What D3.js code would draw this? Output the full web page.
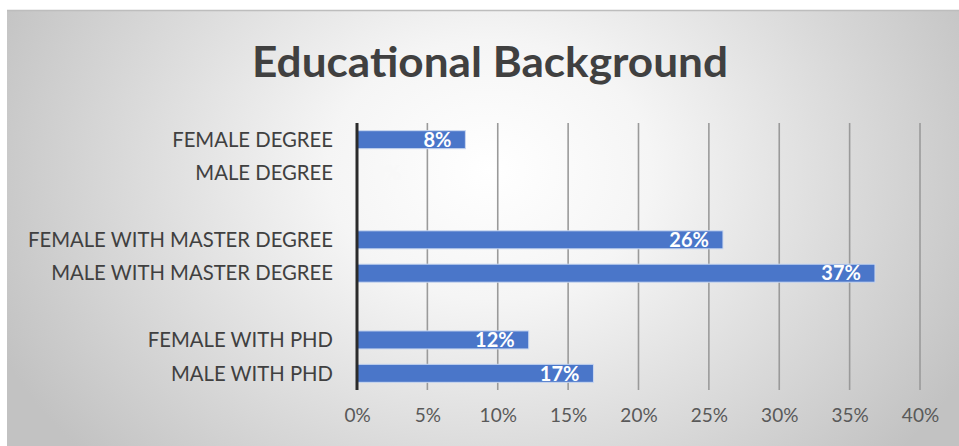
<!DOCTYPE html>
<html><head><meta charset="utf-8">
<script src="https://cdn.jsdelivr.net/npm/d3@7"></script>
<style>html,body{margin:0;padding:0;background:#fff;}svg{display:block;}</style>
</head><body>
<svg id="chart" width="959" height="446"></svg>
<script>
const titleText = "Educational Background";
const categories = ["FEMALE DEGREE","MALE DEGREE","","FEMALE WITH MASTER DEGREE","MALE WITH MASTER DEGREE","","FEMALE WITH PHD","MALE WITH PHD"];
const values = [7.7, 0, null, 26, 36.8, null, 12.2, 16.8];
const valueLabels = ["8%","0%","","26%","37%","","12%","17%"];
const tickValues = [0,5,10,15,20,25,30,35,40];
const tickLabels = ["0%","5%","10%","15%","20%","25%","30%","35%","40%"];

const W = 959, H = 446;
const svg = d3.select("#chart");
const defs = svg.append("defs");
const rg = defs.append("radialGradient").attr("id","bg")
  .attr("gradientUnits","userSpaceOnUse").attr("cx",490).attr("cy",170).attr("r",540)
  .attr("gradientTransform","translate(490,170) scale(1,0.8) translate(-490,-170)");
rg.append("stop").attr("offset","0%").attr("stop-color","#ffffff");
rg.append("stop").attr("offset","30%").attr("stop-color","#f5f5f5");
rg.append("stop").attr("offset","100%").attr("stop-color","#c2c2c2");

svg.append("rect").attr("x",0).attr("y",0).attr("width",W).attr("height",H).attr("fill","#ffffff");
svg.append("rect").attr("x",7).attr("y",10).attr("width",W-7).attr("height",H-10).attr("fill","url(#bg)");
svg.append("line").attr("x1",7).attr("x2",W).attr("y1",10.5).attr("y2",10.5).attr("stroke","#bdbdbd").attr("stroke-width",1.5);

const x = d3.scaleLinear().domain([0,40]).range([357,920]);
const y = d3.scaleBand().domain(d3.range(categories.length)).range([123,390]).paddingInner(0.46).paddingOuter(0.23);

// gridlines
svg.append("g").selectAll("line").data(tickValues.filter(d=>d>0)).join("line")
  .attr("x1",d=>x(d)).attr("x2",d=>x(d)).attr("y1",123).attr("y2",390)
  .attr("stroke","#9a9a9a").attr("stroke-width",1.6);

// tick labels via axis
const axis = d3.axisBottom(x).tickValues(tickValues).tickFormat((d,i)=>tickLabels[i]).tickSize(0).tickPadding(0);
const ax = svg.append("g").attr("transform","translate(0,408)").call(axis);
ax.select(".domain").remove();
ax.selectAll("text").attr("font-family","Lato, sans-serif").attr("font-size",19).attr("fill","#595959").attr("dy","0.71em");

// bars
const idx = d3.range(categories.length).filter(i=>values[i]!==null);
svg.append("g").selectAll("rect").data(idx).join("rect")
  .attr("x",x(0)).attr("y",i=>y(i)).attr("width",i=>Math.max(0,x(values[i])-x(0))).attr("height",y.bandwidth())
  .attr("fill","#4a76c9").attr("stroke",i=>values[i]>0?"#c9d7f0":"none").attr("stroke-width",1);

// zero axis line
svg.append("line").attr("x1",x(0)).attr("x2",x(0)).attr("y1",123).attr("y2",390).attr("stroke","#2b2b2b").attr("stroke-width",3);

// value labels
svg.append("g").selectAll("text").data(idx).join("text")
  .attr("x",i=>values[i]>3?x(values[i])-14:x(0)+16)
  .attr("y",i=>y(i)+y.bandwidth()/2)
  .attr("dy","0.36em")
  .attr("text-anchor",i=>values[i]>3?"end":"start")
  .attr("font-family","Lato, sans-serif").attr("font-weight","bold").attr("font-size",20)
  .attr("fill",i=>values[i]>0?"#ffffff":"#f8f8f8")
  .text(i=>valueLabels[i]);

// category labels
svg.append("g").selectAll("text").data(d3.range(categories.length).filter(i=>categories[i])).join("text")
  .attr("x",333).attr("y",i=>y(i)+y.bandwidth()/2).attr("dy","0.36em")
  .attr("text-anchor","end").attr("font-family","Lato, sans-serif").attr("font-size",20.3)
  .attr("fill","#404040").text(i=>categories[i]);

// title
const t = svg.append("text").attr("x",252).attr("y",77).attr("font-family","Lato, sans-serif")
  .attr("font-weight","bold").attr("font-size",42).attr("fill","#404040").text(titleText);
t.attr("textLength",476).attr("lengthAdjust","spacingAndGlyphs");
</script>
</body></html>
